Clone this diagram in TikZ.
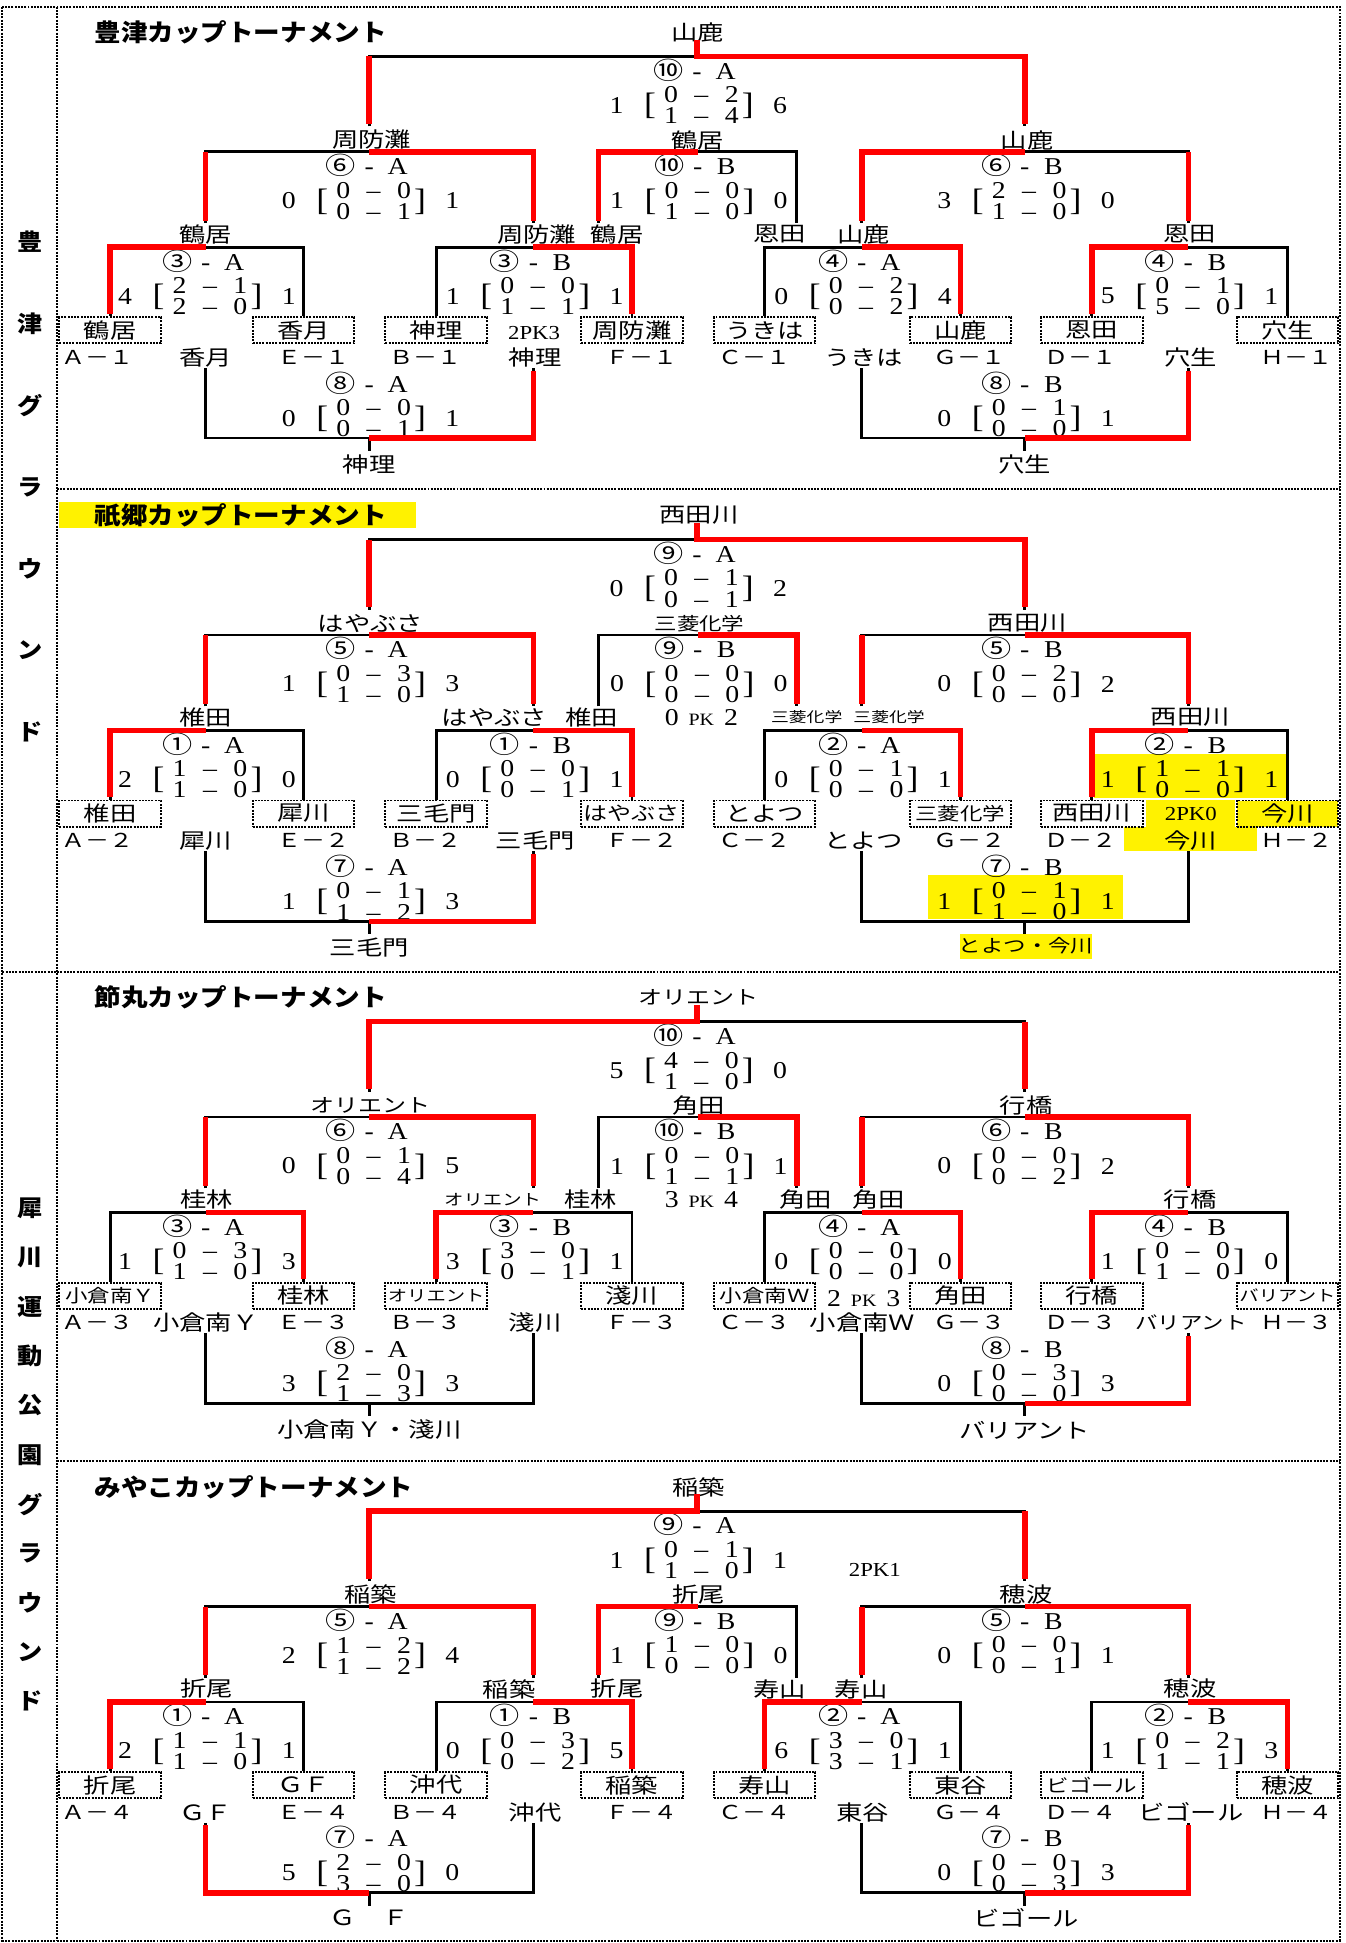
\documentclass[tikz,border=0pt]{standalone}
\usepackage{fontspec}
\setmainfont{Liberation Serif}[FakeStretch=1.15]
\newfontfamily\jp{Noto Sans CJK JP}[FakeStretch=1.25]
\newfontfamily\jpt{Noto Sans CJK JP}[FakeStretch=1.1]
\usetikzlibrary{positioning}

\tikzset{
  bar/.style={line width=2.2pt},
  win/.style={red, line width=4.5pt},
  gridline/.style={densely dotted, line width=1.6pt},
  lab/.style={font=\jp\fontsize{17}{17}\selectfont, inner sep=0pt},
  labm/.style={font=\jp\fontsize{15.5}{16}\selectfont, inner sep=0pt},
  labs/.style={font=\jp\fontsize{14.5}{15}\selectfont, inner sep=0pt},
  labxs/.style={font=\jp\fontsize{12.5}{13}\selectfont, inner sep=0pt},
  labxxs/.style={font=\jp\fontsize{11.5}{12}\selectfont, inner sep=0pt},
  tbox/.style={lab, draw, densely dotted, line width=1.6pt, minimum width=82pt, minimum height=21pt},
  num/.style={font=\fontsize{19.5}{19.5}\selectfont, inner sep=0pt},
  pk/.style={font=\fontsize{16}{16}\selectfont, inner sep=0pt},
  brk/.style={font=\fontsize{25}{25}\selectfont, inner sep=0pt},
  cuptitle/.style={font=\jpt\bfseries\fontsize{19.5}{20}\selectfont, inner sep=0pt, anchor=west},
  vtxt/.style={font=\jpt\bfseries\fontsize{18.5}{18.5}\selectfont, inner sep=0pt},
  hl/.style={fill=yellow, draw=none},
}

% match number and score block: name, x, bar y, circled no., letter, left, four digits, right
\newcommand{\score}[8]{%
  \node[num] (#1-id) at (#2,#3+11) {\makebox[23pt]{\jp #4}\makebox[23pt]{-}\makebox[23pt]{#5}};
  \node[num] (#1-l) at (#2-65,#3+39.5) {#6};
  \node[brk] (#1-ob) at (#2-38,#3+40) {[};
  \scorerows{#1}{#2}{#3}#7
  \node[brk] (#1-cb) at (#2+41,#3+40) {]};
  \node[num] (#1-r) at (#2+67,#3+39.5) {#8};
}
\newcommand{\scorerows}[7]{%
  \node[num] (#1-r1) at (#2+3.5,#3+31) {\makebox[23pt]{#4}\makebox[26pt]{--}\makebox[23pt]{#5}};
  \node[num] (#1-r2) at (#2+3.5,#3+48) {\makebox[23pt]{#6}\makebox[26pt]{--}\makebox[23pt]{#7}};
}
\newcommand{\pkline}[2]{#1\hspace{8pt}{\fontsize{14}{14}\selectfont PK}\hspace{8pt}#2}
% bracket lines, same in every cup
\newcommand{\drawbrackets}{%
  \draw[bar] (298,97) |- (827,40.5) -- (827,97);
  \draw[bar] (166,175) |- (430.5,117.5) -- (430.5,175);
  \draw[bar] (483,175) |- (643,117.5) -- (643,175);
  \draw[bar] (695.5,175) |- (959,117.5) -- (959,175);
  \draw[bar] (b1.north) |- (166,194.5) -| (b2.north);
  \draw[bar] (b3.north) |- (430.5,194.5) -| (b4.north);
  \draw[bar] (b5.north) |- (695.5,194.5) -| (b6.north);
  \draw[bar] (b7.north) |- (959,194.5) -| (b8.north);
  \draw[bar] (166,292) |- (298,348.5) -| (430.5,292);
  \draw[bar] (298,348.5) -- (298,359);
  \draw[bar] (695.5,292) |- (827,348.5) -| (959,292);
  \draw[bar] (827,348.5) -- (827,359);
}

\begin{document}
\begin{tikzpicture}[x=1pt,y=-1pt]
  \useasboundingbox (0,0) rectangle (1086,1568);

  % frame
  \draw[gridline] (2,5.5) rectangle (1081,1566);
  \draw[gridline] (46,5.5) -- (46,1566);
  \draw[gridline] (46,395) -- (1081,395);
  \draw[gridline] (2,784) -- (1081,784);
  \draw[gridline] (46,1179) -- (1081,1179);

  \foreach \ch [count=\i] in {豊,津,グ,ラ,ウ,ン,ド}
    \node[vtxt] (g\i) at (24,195+66*\i-66) {\ch};
  \foreach \ch [count=\i] in {犀,川,運,動,公,園,グ,ラ,ウ,ン,ド}
    \node[vtxt] (p\i) at (24,975+39.8*\i-39.8) {\ch};

  % cup 1
  \begin{scope}[shift={(0,5)}, name prefix=s1-]
    \node[cuptitle] (title) at (76,21) {豊津カップトーナメント};
    \node[lab] (champ) at (563,21) {山鹿};
    \score{f}{562.5}{40.5}{⑩}{A}{1}{0214}{6}
    \node[lab] (lsA) at (300,108) {周防灘};
    \node[lab] (lm) at (563,108) {鶴居};
    \node[lab] (lsB) at (829,108) {山鹿};
    \score{sA}{298}{117.5}{⑥}{A}{0}{0001}{1}
    \score{m}{563}{117.5}{⑩}{B}{1}{0010}{0}
    \score{sB}{827}{117.5}{⑥}{B}{3}{2010}{0}
    \node[lab] (lq1) at (166,184) {鶴居};
    \node[lab] (lq2) at (433,184) {周防灘};
    \node[lab] (lm1) at (498,184) {鶴居};
    \node[lab] (lm2) at (629,184) {恩田};
    \node[lab] (lq3) at (697,184) {山鹿};
    \node[lab] (lq4) at (960,184) {恩田};
    \score{q1}{166}{194.5}{③}{A}{4}{2120}{1}
    \score{q2}{430.5}{194.5}{③}{B}{1}{0011}{1}
    \score{q3}{695.5}{194.5}{④}{A}{0}{0202}{4}
    \score{q4}{959}{194.5}{④}{B}{5}{0150}{1}
    \node[tbox] (b1) at (89,261.5) {鶴居};
    \node[tbox] (b2) at (245,261.5) {香月};
    \node[tbox] (b3) at (352,261.5) {神理};
    \node[tbox] (b4) at (510,261.5) {周防灘};
    \node[tbox] (b5) at (617,261.5) {うきは};
    \node[tbox] (b6) at (775,261.5) {山鹿};
    \node[tbox] (b7) at (881,261.5) {恩田};
    \node[tbox] (b8) at (1039,261.5) {穴生};
    \node[pk] (pk1) at (431,264) {2PK3};
    \node[labm] (k1) at (79,283.5) {Ａ－１};
    \node[labm] (k2) at (253,283.5) {Ｅ－１};
    \node[labm] (k3) at (343,283.5) {Ｂ－１};
    \node[labm] (k4) at (518,283.5) {Ｆ－１};
    \node[labm] (k5) at (609,283.5) {Ｃ－１};
    \node[labm] (k6) at (782,283.5) {Ｇ－１};
    \node[labm] (k7) at (872,283.5) {Ｄ－１};
    \node[labm] (k8) at (1046,283.5) {Ｈ－１};
    \node[lab] (c1) at (166,283.5) {香月};
    \node[lab] (c2) at (432,283.5) {神理};
    \node[lab] (c3) at (697,283.5) {うきは};
    \node[lab] (c4) at (961,283.5) {穴生};
    \score{cA}{298}{293}{⑧}{A}{0}{0001}{1}
    \score{cB}{827}{293}{⑧}{B}{0}{0100}{1}
    \node[lab] (wA) at (298,370) {神理};
    \node[lab] (wB) at (827,370) {穴生};
    \drawbrackets
    \draw[win] (827,95) |- (562.5,40.5) -- (562.5,27);
    \draw[win] (298,95) -- (298,40.5);
    \draw[win] (430.5,173) |- (298,117.5);
    \draw[win] (166,173) -- (166,117.5);
    \draw[win] (483,173) |- (563,117.5);
    \draw[win] (695.5,173) |- (827,117.5);
    \draw[win] (959,173) -- (959,117.5);
    \draw[win] ([yshift=2pt]b1.north) |- (166,194.5);
    \draw[win] ([yshift=2pt]b4.north) |- (430.5,194.5);
    \draw[win] ([yshift=2pt]b6.north) |- (695.5,194.5);
    \draw[win] ([yshift=2pt]b7.north) |- (959,194.5);
    \draw[win] (430.5,294) |- (298,348.5);
    \draw[win] (959,294) |- (827,348.5);
  \end{scope}

  % cup 2
  \begin{scope}[shift={(0,395)}, name prefix=s2-]
    \fill[hl] (48,10) rectangle (336,31);
    \fill[hl] (882.5,213.5) rectangle (1039,249);
    \fill[hl] (925,250.5) rectangle (996.5,272);
    \fill[hl] (907,272) rectangle (1014,292);
    \fill[hl] (748.5,311) rectangle (906.5,347);
    \fill[hl] (775,358.5) rectangle (881,379);
    \node[cuptitle] (title) at (76,21) {祇郷カップトーナメント};
    \node[lab] (champ) at (564,21) {西田川};
    \score{f}{562.5}{40.5}{⑨}{A}{0}{0101}{2}
    \node[lab] (lsA) at (299,108) {はやぶさ};
    \node[labs] (lm) at (564.5,108) {三菱化学};
    \node[lab] (lsB) at (829,108) {西田川};
    \score{sA}{298}{117.5}{⑤}{A}{1}{0310}{3}
    \score{m}{563}{117.5}{⑨}{B}{0}{0000}{0}
    \score{sB}{827}{117.5}{⑤}{B}{0}{0200}{2}
    \node[lab] (lq1) at (166,184) {椎田};
    \node[lab] (lq2) at (399,184) {はやぶさ};
    \node[lab] (lm1) at (477.5,184) {椎田};
    \node[num] (pk1) at (566,184) {\pkline{0}{2}};
    \node[labxxs] (lm2) at (651,184) {三菱化学};
    \node[labxxs] (lq3) at (717.5,184) {三菱化学};
    \node[lab] (lq4) at (960.5,184) {西田川};
    \score{q1}{166}{194.5}{①}{A}{2}{1010}{0}
    \score{q2}{430.5}{194.5}{①}{B}{0}{0001}{1}
    \score{q3}{695.5}{194.5}{②}{A}{0}{0100}{1}
    \score{q4}{959}{194.5}{②}{B}{1}{1100}{1}
    \node[tbox] (b1) at (89,261.5) {椎田};
    \node[tbox] (b2) at (245,261.5) {犀川};
    \node[tbox] (b3) at (352,261.5) {三毛門};
    \node[tbox,labm] (b4) at (510,261.5) {はやぶさ};
    \node[tbox] (b5) at (617,261.5) {とよつ};
    \node[tbox,labs] (b6) at (775,261.5) {三菱化学};
    \node[tbox] (b7) at (881,261.5) {西田川};
    \node[tbox,fill=yellow] (b8) at (1039,261.5) {今川};
    \node[pk] (pk2) at (961,261.5) {2PK0};
    \node[labm] (k1) at (79,283.5) {Ａ－２};
    \node[labm] (k2) at (253,283.5) {Ｅ－２};
    \node[labm] (k3) at (343,283.5) {Ｂ－２};
    \node[labm] (k4) at (518,283.5) {Ｆ－２};
    \node[labm] (k5) at (609,283.5) {Ｃ－２};
    \node[labm] (k6) at (782,283.5) {Ｇ－２};
    \node[labm] (k7) at (872,283.5) {Ｄ－２};
    \node[labm] (k8) at (1046,283.5) {Ｈ－２};
    \node[lab] (c1) at (166,283.5) {犀川};
    \node[lab] (c2) at (432,283.5) {三毛門};
    \node[lab] (c3) at (697,283.5) {とよつ};
    \node[lab] (c4) at (961,283.5) {今川};
    \score{cA}{298}{293}{⑦}{A}{1}{0112}{3}
    \score{cB}{827}{293}{⑦}{B}{1}{0110}{1}
    \node[lab] (wA) at (298,370) {三毛門};
    \node[labs] (wB) at (828,368.5) {とよつ・今川};
    \drawbrackets
    \draw[win] (827,95) |- (562.5,40.5) -- (562.5,27);
    \draw[win] (298,95) -- (298,40.5);
    \draw[win] (430.5,173) |- (298,117.5);
    \draw[win] (166,173) -- (166,117.5);
    \draw[win] (643,173) |- (563,117.5);
    \draw[win] (959,173) |- (827,117.5);
    \draw[win] (695.5,173) -- (695.5,117.5);
    \draw[win] ([yshift=2pt]b1.north) |- (166,194.5);
    \draw[win] ([yshift=2pt]b4.north) |- (430.5,194.5);
    \draw[win] ([yshift=2pt]b6.north) |- (695.5,194.5);
    \draw[win] ([yshift=2pt]b7.north) |- (959,194.5);
    \draw[win] (430.5,294) |- (298,348.5);
  \end{scope}

  % cup 3
  \begin{scope}[shift={(0,784)}, name prefix=s3-]
    \node[cuptitle] (title) at (76,21) {節丸カップトーナメント};
    \node[labm] (champ) at (563.5,21) {オリエント};
    \score{f}{562.5}{40.5}{⑩}{A}{5}{4010}{0}
    \node[labm] (lsA) at (299,108) {オリエント};
    \node[lab] (lm) at (564,108) {角田};
    \node[lab] (lsB) at (828,108) {行橋};
    \score{sA}{298}{117.5}{⑥}{A}{0}{0104}{5}
    \score{m}{563}{117.5}{⑩}{B}{1}{0011}{1}
    \score{sB}{827}{117.5}{⑥}{B}{0}{0002}{2}
    \node[lab] (lq1) at (167,184) {桂林};
    \node[labxs] (lq2) at (397.5,184) {オリエント};
    \node[lab] (lm1) at (476.5,184) {桂林};
    \node[num] (pk1) at (566,184) {\pkline{3}{4}};
    \node[lab] (lm2) at (650,184) {角田};
    \node[lab] (lq3) at (709,184) {角田};
    \node[lab] (lq4) at (960.5,184) {行橋};
    \score{q1}{166}{194.5}{③}{A}{1}{0310}{3}
    \score{q2}{430.5}{194.5}{③}{B}{3}{3001}{1}
    \score{q3}{695.5}{194.5}{④}{A}{0}{0000}{0}
    \score{q4}{959}{194.5}{④}{B}{1}{0010}{0}
    \node[tbox,labs] (b1) at (89,261.5) {小倉南Ｙ};
    \node[tbox] (b2) at (245,261.5) {桂林};
    \node[tbox,labxs] (b3) at (352,261.5) {オリエント};
    \node[tbox] (b4) at (510,261.5) {淺川};
    \node[tbox,labs] (b5) at (617,261.5) {小倉南Ｗ};
    \node[tbox] (b6) at (775,261.5) {角田};
    \node[tbox] (b7) at (881,261.5) {行橋};
    \node[tbox,labxs] (b8) at (1039,261.5) {バリアント};
    \node[num] (pk2) at (697,264) {\pkline{2}{3}};
    \node[labm] (k1) at (79,283.5) {Ａ－３};
    \node[labm] (k2) at (253,283.5) {Ｅ－３};
    \node[labm] (k3) at (343,283.5) {Ｂ－３};
    \node[labm] (k4) at (518,283.5) {Ｆ－３};
    \node[labm] (k5) at (609,283.5) {Ｃ－３};
    \node[labm] (k6) at (782,283.5) {Ｇ－３};
    \node[labm] (k7) at (872,283.5) {Ｄ－３};
    \node[labm] (k8) at (1046,283.5) {Ｈ－３};
    \node[lab] (c1) at (166,283.5) {小倉南Ｙ};
    \node[lab] (c2) at (432,283.5) {淺川};
    \node[lab] (c3) at (696,283.5) {小倉南Ｗ};
    \node[labs] (c4) at (961,283.5) {バリアント};
    \score{cA}{298}{293}{⑧}{A}{3}{2013}{3}
    \score{cB}{827}{293}{⑧}{B}{0}{0300}{3}
    \node[lab] (wA) at (298,370) {小倉南Ｙ・淺川};
    \node[lab] (wB) at (827,370) {バリアント};
    \drawbrackets
    \draw[win] (298,95) |- (562.5,40.5) -- (562.5,27);
    \draw[win] (827,95) -- (827,40.5);
    \draw[win] (430.5,173) |- (298,117.5);
    \draw[win] (166,173) -- (166,117.5);
    \draw[win] (643,173) |- (563,117.5);
    \draw[win] (959,173) |- (827,117.5);
    \draw[win] (695.5,173) -- (695.5,117.5);
    \draw[win] ([yshift=2pt]b2.north) |- (166,194.5);
    \draw[win] ([yshift=2pt]b3.north) |- (430.5,194.5);
    \draw[win] ([yshift=2pt]b6.north) |- (695.5,194.5);
    \draw[win] ([yshift=2pt]b7.north) |- (959,194.5);
    \draw[win] (959,294) |- (827,348.5);
  \end{scope}

  % cup 4
  \begin{scope}[shift={(0,1179)}, name prefix=s4-]
    \node[cuptitle] (title) at (76,21) {みやこカップトーナメント};
    \node[lab] (champ) at (564,21) {稲築};
    \score{f}{562.5}{40.5}{⑨}{A}{1}{0110}{1}
    \node[pk] (pk1) at (706,88) {2PK1};
    \node[lab] (lsA) at (299,108) {稲築};
    \node[lab] (lm) at (564,108) {折尾};
    \node[lab] (lsB) at (828,108) {穂波};
    \score{sA}{298}{117.5}{⑤}{A}{2}{1212}{4}
    \score{m}{563}{117.5}{⑨}{B}{1}{1000}{0}
    \score{sB}{827}{117.5}{⑤}{B}{0}{0001}{1}
    \node[lab] (lq1) at (167,184) {折尾};
    \node[lab] (lq2) at (411,184) {稲築};
    \node[lab] (lm1) at (498,184) {折尾};
    \node[lab] (lm2) at (629,184) {寿山};
    \node[lab] (lq3) at (695,184) {寿山};
    \node[lab] (lq4) at (960.5,184) {穂波};
    \score{q1}{166}{194.5}{①}{A}{2}{1110}{1}
    \score{q2}{430.5}{194.5}{①}{B}{0}{0302}{5}
    \score{q3}{695.5}{194.5}{②}{A}{6}{3031}{1}
    \score{q4}{959}{194.5}{②}{B}{1}{0211}{3}
    \node[tbox] (b1) at (89,261.5) {折尾};
    \node[tbox] (b2) at (245,261.5) {ＧＦ};
    \node[tbox] (b3) at (352,261.5) {沖代};
    \node[tbox] (b4) at (510,261.5) {稲築};
    \node[tbox] (b5) at (617,261.5) {寿山};
    \node[tbox] (b6) at (775,261.5) {東谷};
    \node[tbox,labs] (b7) at (881,261.5) {ビゴール};
    \node[tbox] (b8) at (1039,261.5) {穂波};
    \node[labm] (k1) at (79,283.5) {Ａ－４};
    \node[labm] (k2) at (253,283.5) {Ｅ－４};
    \node[labm] (k3) at (343,283.5) {Ｂ－４};
    \node[labm] (k4) at (518,283.5) {Ｆ－４};
    \node[labm] (k5) at (609,283.5) {Ｃ－４};
    \node[labm] (k6) at (782,283.5) {Ｇ－４};
    \node[labm] (k7) at (872,283.5) {Ｄ－４};
    \node[labm] (k8) at (1046,283.5) {Ｈ－４};
    \node[lab] (c1) at (166,283.5) {ＧＦ};
    \node[lab] (c2) at (432,283.5) {沖代};
    \node[lab] (c3) at (696,283.5) {東谷};
    \node[lab] (c4) at (961,283.5) {ビゴール};
    \score{cA}{298}{293}{⑦}{A}{5}{2030}{0}
    \score{cB}{827}{293}{⑦}{B}{0}{0003}{3}
    \node[lab] (wA) at (298,369) {Ｇ　Ｆ};
    \node[lab] (wB) at (828,369) {ビゴール};
    \drawbrackets
    \draw[win] (298,95) |- (562.5,40.5) -- (562.5,27);
    \draw[win] (827,95) -- (827,40.5);
    \draw[win] (430.5,173) |- (298,117.5);
    \draw[win] (166,173) -- (166,117.5);
    \draw[win] (483,173) |- (563,117.5);
    \draw[win] (959,173) |- (827,117.5);
    \draw[win] (695.5,173) -- (695.5,117.5);
    \draw[win] ([yshift=2pt]b1.north) |- (166,194.5);
    \draw[win] ([yshift=2pt]b4.north) |- (430.5,194.5);
    \draw[win] ([yshift=2pt]b5.north) |- (695.5,194.5);
    \draw[win] ([yshift=2pt]b8.north) |- (959,194.5);
    \draw[win] (166,294) |- (298,348.5);
    \draw[win] (959,294) |- (827,348.5);
  \end{scope}
\end{tikzpicture}
\end{document}
